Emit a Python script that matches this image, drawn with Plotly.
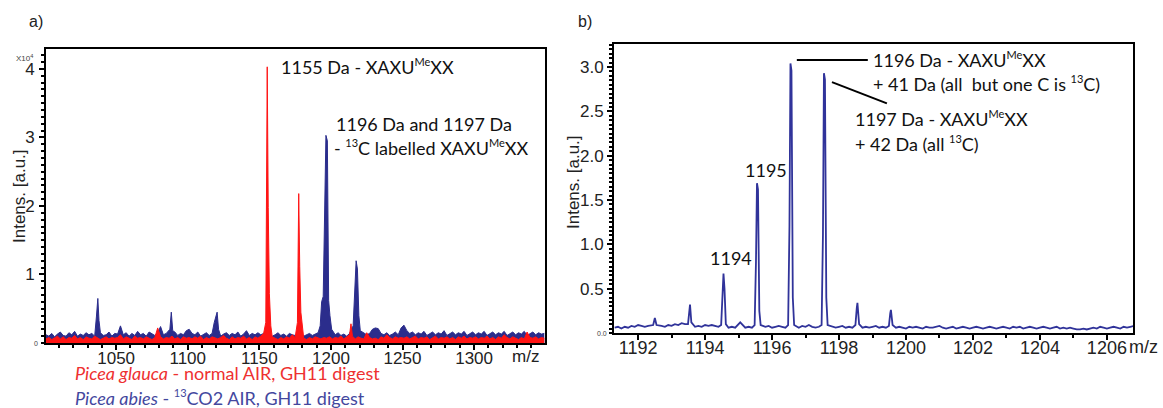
import numpy as np
import plotly.graph_objects as go

W, H = 1163, 408

# ---------------- panel a: overview spectra (intensity x10^4) ----------------
a_mz_start, a_mz_step = 1001, 2

a_blue_base = [
    0.12, 0.10, 0.14, 0.09, 0.13, 0.16, 0.11, 0.10, 0.15, 0.12, 0.17, 0.10, 0.13, 0.11, 0.15, 0.12, 0.14, 0.10, 0.13, 0.18, 0.11, 0.12, 0.16, 0.10, 0.14,
    0.13, 0.25, 0.12, 0.15, 0.10, 0.14, 0.11, 0.17, 0.12, 0.14, 0.10, 0.16, 0.13, 0.11, 0.15, 0.24, 0.12, 0.14, 0.10, 0.13, 0.16, 0.11, 0.14, 0.12, 0.18,
    0.20, 0.14, 0.12, 0.16, 0.10, 0.13, 0.15, 0.11, 0.14, 0.12, 0.17, 0.10, 0.13, 0.15, 0.11, 0.14, 0.12, 0.16, 0.10, 0.13, 0.18, 0.11, 0.14, 0.12, 0.15,
    0.12, 0.14, 0.11, 0.13, 0.10, 0.12, 0.15, 0.11, 0.13, 0.10, 0.14, 0.12, 0.11, 0.13, 0.15, 0.10, 0.12, 0.14, 0.11, 0.13, 0.15, 0.20, 0.22, 0.25, 0.20,
    0.14, 0.12, 0.15, 0.11, 0.13, 0.10, 0.14, 0.12, 0.16, 0.11, 0.13, 0.15, 0.12, 0.14, 0.20, 0.22, 0.21, 0.14, 0.12, 0.15, 0.11, 0.13, 0.16, 0.12, 0.22,
    0.26, 0.18, 0.14, 0.16, 0.12, 0.15, 0.13, 0.17, 0.11, 0.14, 0.16, 0.12, 0.15, 0.13, 0.18, 0.11, 0.14, 0.16, 0.12, 0.15, 0.13, 0.17, 0.11, 0.14, 0.16,
    0.12, 0.15, 0.13, 0.17, 0.11, 0.14, 0.16, 0.12, 0.15, 0.13, 0.17, 0.11, 0.14, 0.16, 0.12, 0.15, 0.13, 0.17, 0.11, 0.14, 0.16, 0.12, 0.15, 0.13, 0.14,
]
a_red_base = [
    0.06, 0.08, 0.05, 0.07, 0.10, 0.06, 0.09, 0.05, 0.08, 0.07, 0.11, 0.06, 0.08, 0.05, 0.09, 0.07, 0.06, 0.10, 0.08, 0.05, 0.07, 0.09, 0.06, 0.08, 0.07,
    0.08, 0.12, 0.06, 0.09, 0.07, 0.05, 0.10, 0.07, 0.08, 0.06, 0.09, 0.07, 0.05, 0.08, 0.22, 0.09, 0.06, 0.08, 0.07, 0.10, 0.06, 0.08, 0.05, 0.09, 0.07,
    0.08, 0.06, 0.09, 0.07, 0.10, 0.05, 0.08, 0.06, 0.09, 0.07, 0.06, 0.08, 0.11, 0.07, 0.05, 0.09, 0.06, 0.08, 0.07, 0.10, 0.06, 0.08, 0.05, 0.09, 0.07,
    0.10, 0.14, 0.08, 0.06, 0.09, 0.07, 0.05, 0.08, 0.06, 0.09, 0.07, 0.12, 0.08, 0.06, 0.09, 0.07, 0.05, 0.08, 0.06, 0.09, 0.07, 0.06, 0.08, 0.07, 0.09,
    0.06, 0.08, 0.07, 0.10, 0.06, 0.09, 0.12, 0.08, 0.06, 0.09, 0.07, 0.06, 0.15, 0.08, 0.06, 0.07, 0.05, 0.09, 0.07, 0.12, 0.08, 0.06, 0.09, 0.07, 0.08,
    0.07, 0.09, 0.06, 0.08, 0.10, 0.06, 0.08, 0.07, 0.09, 0.05, 0.08, 0.10, 0.06, 0.08, 0.07, 0.09, 0.06, 0.08, 0.05, 0.09, 0.07, 0.10, 0.06, 0.08, 0.07,
    0.09, 0.06, 0.08, 0.07, 0.10, 0.06, 0.08, 0.05, 0.09, 0.07, 0.12, 0.08, 0.06, 0.09, 0.07, 0.05, 0.08, 0.06, 0.16, 0.08, 0.07, 0.09, 0.06, 0.08, 0.07,
]

a_blue_peak_mz = [1036.2, 1037.2, 1038.0, 1039.0,
                  1087.5, 1088.5, 1089.5,
                  1118.5, 1119.5, 1120.5, 1121.5,
                  1192.5, 1193.5, 1194.6, 1195.6, 1196.5, 1197.5, 1198.4, 1199.3, 1200.5,
                  1215.5, 1216.6, 1217.6, 1218.5, 1219.5, 1220.5]
a_blue_peak_val = [0.38, 0.65, 0.33, 0.15,
                   0.20, 0.45, 0.18,
                   0.30, 0.40, 0.45, 0.20,
                   0.25, 0.60, 0.68, 1.65, 3.03, 2.95, 0.62, 0.40, 0.20,
                   0.25, 0.68, 1.20, 1.08, 0.40, 0.18]

a_red_peak_mz = [1154.5, 1155.5, 1156.2, 1157.0, 1158.0,
                 1176.6, 1177.5, 1178.2, 1179.0,
                 1213.0, 1214.0, 1215.0]
a_red_peak_val = [0.30, 4.03, 1.98, 0.72, 0.25,
                  0.30, 2.18, 1.12, 0.45,
                  0.12, 0.28, 0.10]

# ---------------- panel b: zoom on the labelled cluster ----------------
b_mz_start, b_mz_step = 1191.3, 0.1
b_base = [
    0.06, 0.07, 0.05, 0.07, 0.06, 0.08, 0.07, 0.09, 0.08, 0.07,
    0.08, 0.10, 0.07, 0.09, 0.08, 0.07, 0.09, 0.08, 0.10, 0.09,
    0.11, 0.10, 0.09, 0.08, 0.07, 0.08, 0.07, 0.09, 0.08, 0.09,
    0.08, 0.07, 0.08, 0.07, 0.06, 0.07, 0.06, 0.08, 0.07, 0.06,
    0.07, 0.06, 0.07, 0.07, 0.06, 0.07, 0.08, 0.06, 0.07, 0.08,
    0.07, 0.06, 0.07, 0.08, 0.07, 0.06, 0.08, 0.07, 0.09, 0.07,
    0.06, 0.07, 0.07, 0.08, 0.06, 0.07, 0.06, 0.07, 0.08, 0.06,
    0.07, 0.06, 0.07, 0.08, 0.06, 0.07, 0.06, 0.07, 0.08, 0.06,
    0.07, 0.06, 0.08, 0.07, 0.06, 0.07, 0.06, 0.05, 0.07, 0.06,
    0.07, 0.06, 0.05, 0.07, 0.06, 0.06, 0.07, 0.08, 0.06, 0.05,
    0.06, 0.07, 0.05, 0.06, 0.07, 0.06, 0.05, 0.06, 0.07, 0.06,
    0.05, 0.06, 0.07, 0.06, 0.05, 0.06, 0.07, 0.06, 0.05, 0.07,
    0.06, 0.07, 0.05, 0.06, 0.07, 0.06, 0.05, 0.06, 0.07, 0.06,
    0.05, 0.06, 0.07, 0.05, 0.06, 0.05, 0.06, 0.05, 0.04, 0.04,
    0.05, 0.04, 0.05, 0.06, 0.05, 0.07, 0.06, 0.05, 0.06, 0.07,
    0.06, 0.05, 0.07, 0.06, 0.07, 0.08,
]
b_peak_mz = [1192.45, 1192.50, 1192.55,
             1193.49, 1193.53, 1193.55, 1193.59,
             1194.48, 1194.52, 1194.55, 1194.58, 1194.62,
             1195.05,
             1195.48, 1195.52, 1195.55, 1195.58, 1195.62, 1195.66,
             1196.48, 1196.52, 1196.55, 1196.58, 1196.62, 1196.66,
             1197.48, 1197.52, 1197.55, 1197.58, 1197.62, 1197.66,
             1198.49, 1198.53, 1198.55, 1198.60,
             1199.49, 1199.53, 1199.55, 1199.60]
b_peak_val = [0.09, 0.17, 0.09,
              0.10, 0.26, 0.32, 0.12,
              0.09, 0.40, 0.67, 0.50, 0.10,
              0.12,
              0.09, 0.80, 1.69, 1.62, 0.25, 0.09,
              0.09, 1.20, 3.04, 2.96, 0.40, 0.09,
              0.09, 1.10, 2.93, 2.86, 0.40, 0.09,
              0.09, 0.28, 0.34, 0.10,
              0.08, 0.22, 0.26, 0.09]

RED = "#FF1414"
BLUE = "#2B2D8C"
BLUE_B = "#30339A"
TICK_FONT = "Liberation Sans, Arial, sans-serif"
LABEL_FONT = "Lato, 'Open Sans', sans-serif"


def spectrum(start, step, base, peak_mz, peak_val, gap):
    """Merge a sampled baseline with explicit peak profile points."""
    bx = start + step * np.arange(len(base))
    by = np.asarray(base, float)
    pm = np.asarray(peak_mz, float)
    pv = np.asarray(peak_val, float)
    keep = np.min(np.abs(bx[:, None] - pm[None, :]), axis=1) > gap
    x = np.concatenate([bx[keep], pm])
    y = np.concatenate([by[keep], pv])
    order = np.argsort(x)
    return x[order], y[order]


ax_b, ay_b = spectrum(a_mz_start, a_mz_step, a_blue_base, a_blue_peak_mz, a_blue_peak_val, 0.9)
ax_r, ay_r = spectrum(a_mz_start, a_mz_step, a_red_base, a_red_peak_mz, a_red_peak_val, 0.9)
bx, by = spectrum(b_mz_start, b_mz_step, b_base, b_peak_mz, b_peak_val, 0.06)

fig = go.Figure()
fig.add_trace(go.Scatter(x=ax_b, y=ay_b, mode="lines", fill="tozeroy",
                         line=dict(color=BLUE, width=1), fillcolor=BLUE,
                         xaxis="x", yaxis="y", showlegend=False))
fig.add_trace(go.Scatter(x=ax_r, y=ay_r, mode="lines", fill="tozeroy",
                         line=dict(color=RED, width=1), fillcolor=RED,
                         xaxis="x", yaxis="y", showlegend=False))
fig.add_trace(go.Scatter(x=bx, y=by, mode="lines",
                         line=dict(color=BLUE_B, width=1.8),
                         xaxis="x2", yaxis="y2", showlegend=False))


def px(x):
    return x / W


def py(y):
    return 1 - y / H


def sup(t):
    return f"<sup><span style='font-size:11px'>{t}</span></sup>"


axis_common = dict(showline=True, linecolor="black", linewidth=2, mirror=True,
                   ticks="outside", tickcolor="black", tickwidth=1.5, ticklen=5,
                   showgrid=False, zeroline=False,
                   tickfont=dict(family=TICK_FONT, size=17, color="#222"))

fig.update_layout(
    width=W, height=H, margin=dict(l=0, r=0, t=0, b=0),
    paper_bgcolor="white", plot_bgcolor="white",
    xaxis=dict(domain=[px(46), px(545)], range=[1001, 1349.5], anchor="y",
               tickmode="linear", tick0=1000, dtick=50, ticklabelstandoff=-6,
               minor=dict(dtick=10, tick0=1000, ticks="outside", ticklen=3, tickcolor="black"),
               **axis_common),
    yaxis=dict(domain=[py(343), py(49)], range=[0, 4.29], anchor="x",
               tickvals=[1, 2, 3, 4], ticklabelstandoff=1,
               minor=dict(dtick=0.1, tick0=0, ticks="outside", ticklen=3, tickcolor="black"),
               **axis_common),
    xaxis2=dict(domain=[px(614), px(1133)], range=[1191.28, 1206.78], anchor="y2",
                tickmode="linear", tick0=1192, dtick=2, ticklabelstandoff=-8,
                minor=dict(dtick=1, tick0=1191, ticks="outside", ticklen=3, tickcolor="black"),
                **{**axis_common, "tickfont": dict(family=TICK_FONT, size=18, color="#222")}),
    yaxis2=dict(domain=[py(333), py(44)], range=[0, 3.26], anchor="x2",
                tickvals=[0.5, 1.0, 1.5, 2.0, 2.5, 3.0],
                ticktext=["0.5", "1.0", "1.5", "2.0", "2.5", "3.0"],
                minor=dict(dtick=0.05, tick0=0, ticks="outside", ticklen=3, tickcolor="black"),
                **axis_common),
)

ann_font = dict(family=LABEL_FONT, size=18, color="#111")
tick_like = dict(family=TICK_FONT, size=17, color="#222")


def note(x, y, text, font, xref="paper", yref="paper", xanchor="center", **kw):
    return dict(x=x, y=y, xref=xref, yref=yref, text=text, showarrow=False,
                xanchor=xanchor, yanchor="middle", font=font, **kw)


annotations = [
    # panel letters
    note(px(36), py(21), "a)", dict(family=TICK_FONT, size=16, color="#222")),
    note(px(585), py(21), "b)", dict(family=TICK_FONT, size=16, color="#222")),
    # axis titles
    note(px(19), py(196), "Intens. [a.u.]", tick_like, textangle=-90),
    note(px(573), py(182), "Intens. [a.u.]", tick_like, textangle=-90),
    note(px(541), py(356), "m/z", tick_like, xanchor="right"),
    note(px(1160), py(347), "m/z", dict(family=TICK_FONT, size=18, color="#222"), xanchor="right"),
    # small zero labels and exponent
    note(px(40), py(343), "0", dict(family=TICK_FONT, size=7, color="#444"), xanchor="right"),
    note(px(609), py(333), "0.0", dict(family=TICK_FONT, size=7, color="#444"), xanchor="right"),
    note(px(14), py(58), "X10<sup>4</sup>", dict(family=TICK_FONT, size=8, color="#444"), xanchor="left"),
    # panel a peak labels
    note(1163.7, 4.04, "1155 Da - XAXU" + sup("Me") + "XX", ann_font, "x", "y", "left"),
    note(1202.1, 3.20, "1196 Da and 1197 Da", ann_font, "x", "y", "left"),
    note(1200.7, 2.85, "- " + sup("13") + "C labelled XAXU" + sup("Me") + "XX", ann_font, "x", "y", "left"),
    # panel b peak labels
    note(1198.95, 3.09, "1196 Da - XAXU" + sup("Me") + "XX", ann_font, "x2", "y2", "left"),
    note(1198.95, 2.82, "+ 41 Da (all  but one C is " + sup("13") + "C)", ann_font, "x2", "y2", "left"),
    note(1198.41, 2.42, "1197 Da - XAXU" + sup("Me") + "XX", ann_font, "x2", "y2", "left"),
    note(1198.41, 2.14, "+ 42 Da (all " + sup("13") + "C)", ann_font, "x2", "y2", "left"),
    note(1195.82, 1.84, "1195", ann_font, "x2", "y2"),
    note(1194.77, 0.85, "1194", ann_font, "x2", "y2"),
    # sample key under panel a
    note(px(73), py(373), "<i>Picea glauca</i> - normal AIR, GH11 digest",
         dict(family=LABEL_FONT, size=18, color="#EE3030"), xanchor="left"),
    note(px(73), py(397), "<i>Picea abies</i> - " + sup("13") + "CO2 AIR, GH11 digest",
         dict(family=LABEL_FONT, size=18, color="#43479E"), xanchor="left"),
]
fig.update_layout(annotations=annotations)

fig.add_shape(type="line", xref="x2", yref="y2", x0=1196.74, y0=3.08, x1=1198.86, y1=3.08,
              line=dict(color="black", width=2))
fig.add_shape(type="line", xref="x2", yref="y2", x0=1197.79, y0=2.83, x1=1199.43, y1=2.59,
              line=dict(color="black", width=2))

fig.write_html("out.html")
